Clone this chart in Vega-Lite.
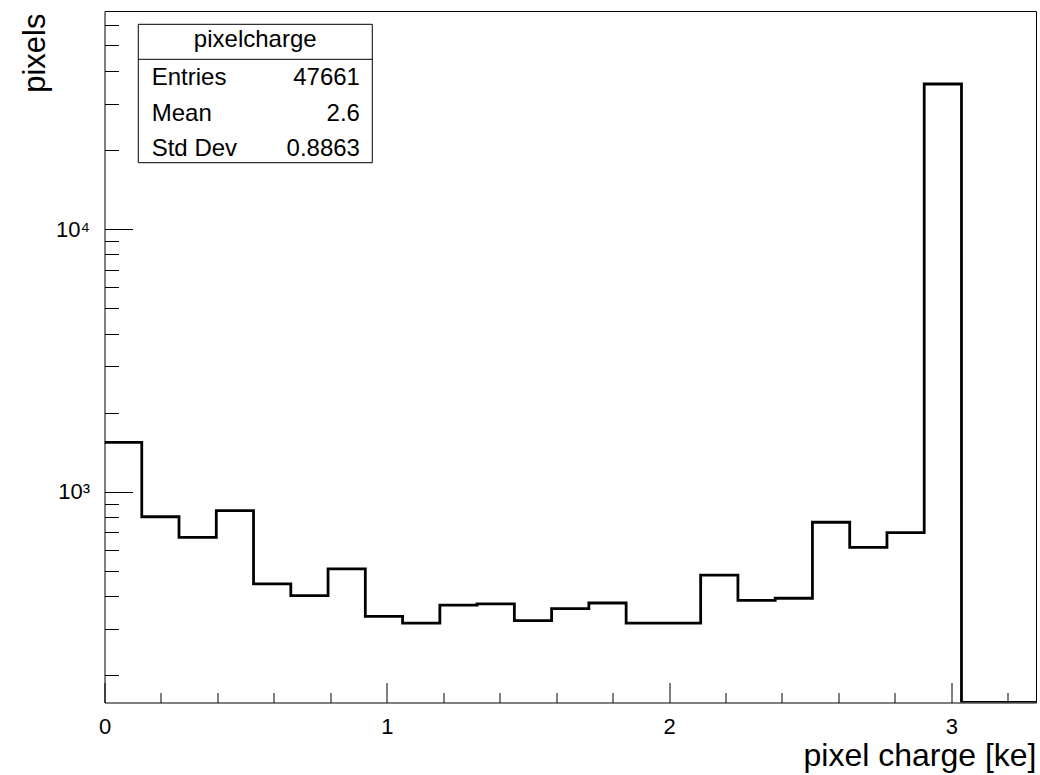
{
  "$schema": "https://vega.github.io/schema/vega-lite/v6.json",
  "autosize": {"type": "none"},
  "padding": {"left": 104.5, "top": 11, "right": 4, "bottom": 72.5},
  "width": 931.5,
  "height": 691.5,
  "background": "white",
  "config": {
    "view": {"stroke": "black", "strokeWidth": 1},
    "font": "Liberation Sans",
    "axis": {"grid": false, "domain": false, "tickColor": "black", "tickWidth": 1, "labelColor": "black", "titleColor": "black", "labelFont": "Liberation Sans", "titleFont": "Liberation Sans", "titleFontWeight": "normal"}
  },
  "datasets": {
    "hist": [
      {"lo": 0.0, "hi": 0.132, "count": 1541},
      {"lo": 0.132, "hi": 0.264, "count": 803},
      {"lo": 0.264, "hi": 0.396, "count": 670},
      {"lo": 0.396, "hi": 0.528, "count": 847},
      {"lo": 0.528, "hi": 0.66, "count": 446},
      {"lo": 0.66, "hi": 0.792, "count": 402},
      {"lo": 0.792, "hi": 0.924, "count": 508},
      {"lo": 0.924, "hi": 1.056, "count": 335},
      {"lo": 1.056, "hi": 1.188, "count": 316},
      {"lo": 1.188, "hi": 1.32, "count": 370},
      {"lo": 1.32, "hi": 1.452, "count": 374},
      {"lo": 1.452, "hi": 1.584, "count": 323},
      {"lo": 1.584, "hi": 1.716, "count": 359},
      {"lo": 1.716, "hi": 1.848, "count": 377},
      {"lo": 1.848, "hi": 1.98, "count": 316},
      {"lo": 1.98, "hi": 2.112, "count": 316},
      {"lo": 2.112, "hi": 2.244, "count": 481},
      {"lo": 2.244, "hi": 2.376, "count": 386},
      {"lo": 2.376, "hi": 2.508, "count": 393},
      {"lo": 2.508, "hi": 2.64, "count": 765},
      {"lo": 2.64, "hi": 2.772, "count": 614},
      {"lo": 2.772, "hi": 2.904, "count": 698},
      {"lo": 2.904, "hi": 3.036, "count": 35650},
      {"lo": 3.036, "hi": 3.168, "count": 0},
      {"lo": 3.168, "hi": 3.3, "count": 0}
    ],
    "statbox": [
      {"title": "pixelcharge"}
    ],
    "stats": [
      {"name": "Entries", "value": "47661"},
      {"name": "Mean", "value": "2.6"},
      {"name": "Std Dev", "value": "0.8863"}
    ]
  },
  "layer": [
    {
      "data": {"name": "hist"},
      "transform": [{"fold": ["lo", "hi"], "as": ["edge", "xpos"]}],
      "mark": {"type": "line", "color": "black", "strokeWidth": 2.8, "clip": true, "invalid": "show"},
      "encoding": {
        "x": {"field": "xpos", "type": "quantitative",
              "scale": {"domain": [0, 3.3], "nice": false, "zero": false},
              "axis": {"orient": "bottom", "values": [0, 1, 2, 3], "tickSize": -20, "labelPadding": 51, "labelBaseline": "alphabetic", "labelFontSize": 22, "labelAngle": 0, "labelFlush": false,
                       "title": "pixel charge [ke]", "titleFontSize": 32, "titleX": 931.5, "titleY": 62.5, "titleAlign": "right", "titleAnchor": null, "titleBaseline": "alphabetic"}},
        "y": {"field": "count", "type": "quantitative",
              "scale": {"type": "log", "domain": [157.6, 67590], "nice": false, "clamp": true},
              "axis": {"orient": "left", "values": [1000, 10000], "tickSize": -28, "labelPadding": 43, "labelFontSize": 22, "labelBaseline": "middle", "labelFlush": false,
                       "labelExpr": "datum.value == 1000 ? '10³' : '10⁴'",
                       "title": "pixels", "titleFontSize": 31, "titleAngle": -90, "titleX": -60.5, "titleY": 2, "titleAlign": "right", "titleAnchor": null, "titleBaseline": "alphabetic"}}
      }
    },
    {
      "data": {"name": "hist"},
      "mark": {"type": "point", "opacity": 0},
      "encoding": {
        "x": {"field": "lo", "type": "quantitative",
              "axis": {"orient": "bottom", "values": [0.2, 0.4, 0.6, 0.8, 1.2, 1.4, 1.6, 1.8, 2.2, 2.4, 2.6, 2.8, 3.2], "tickSize": -10, "labels": false, "title": null}},
        "y": {"field": "count", "type": "quantitative",
              "axis": {"orient": "left", "values": [200, 300, 400, 500, 600, 700, 800, 900, 2000, 3000, 4000, 5000, 6000, 7000, 8000, 9000, 20000, 30000, 40000, 50000, 60000], "tickSize": -14, "labels": false, "title": null}}
      }
    },
    {
      "data": {"name": "statbox"},
      "mark": {"type": "rect", "fill": "white", "stroke": "black", "strokeWidth": 1},
      "encoding": {
        "x": {"datum": 0.1197, "type": "quantitative", "axis": null},
        "x2": {"datum": 0.9487},
        "y": {"datum": 17880, "type": "quantitative", "axis": null},
        "y2": {"datum": 60150}
      }
    },
    {
      "data": {"name": "statbox"},
      "mark": {"type": "rule", "color": "black", "strokeWidth": 1},
      "encoding": {
        "x": {"datum": 0.1197, "type": "quantitative", "axis": null},
        "x2": {"datum": 0.9487},
        "y": {"datum": 44260, "type": "quantitative", "axis": null}
      }
    },
    {
      "data": {"name": "statbox"},
      "mark": {"type": "text", "fontSize": 24, "align": "center", "baseline": "alphabetic", "color": "black", "font": "Liberation Sans"},
      "encoding": {
        "x": {"datum": 0.534, "type": "quantitative", "axis": null},
        "y": {"datum": 49160, "type": "quantitative", "axis": null},
        "text": {"field": "title"}
      }
    },
    {
      "data": {"name": "stats"},
      "transform": [{"filter": "datum.name == 'Entries'"}],
      "encoding": {"y": {"datum": 35340, "type": "quantitative", "axis": null}},
      "layer": [
        {"mark": {"type": "text", "fontSize": 24, "align": "left", "baseline": "alphabetic", "color": "black", "font": "Liberation Sans"},
         "encoding": {"x": {"datum": 0.1672, "type": "quantitative", "axis": null}, "text": {"field": "name"}}},
        {"mark": {"type": "text", "fontSize": 24, "align": "right", "baseline": "alphabetic", "color": "black", "font": "Liberation Sans"},
         "encoding": {"x": {"datum": 0.905, "type": "quantitative", "axis": null}, "text": {"field": "value"}}}
      ]
    },
    {
      "data": {"name": "stats"},
      "transform": [{"filter": "datum.name == 'Mean'"}],
      "encoding": {"y": {"datum": 25840, "type": "quantitative", "axis": null}},
      "layer": [
        {"mark": {"type": "text", "fontSize": 24, "align": "left", "baseline": "alphabetic", "color": "black", "font": "Liberation Sans"},
         "encoding": {"x": {"datum": 0.1672, "type": "quantitative", "axis": null}, "text": {"field": "name"}}},
        {"mark": {"type": "text", "fontSize": 24, "align": "right", "baseline": "alphabetic", "color": "black", "font": "Liberation Sans"},
         "encoding": {"x": {"datum": 0.905, "type": "quantitative", "axis": null}, "text": {"field": "value"}}}
      ]
    },
    {
      "data": {"name": "stats"},
      "transform": [{"filter": "datum.name == 'Std Dev'"}],
      "encoding": {"y": {"datum": 18960, "type": "quantitative", "axis": null}},
      "layer": [
        {"mark": {"type": "text", "fontSize": 24, "align": "left", "baseline": "alphabetic", "color": "black", "font": "Liberation Sans"},
         "encoding": {"x": {"datum": 0.1672, "type": "quantitative", "axis": null}, "text": {"field": "name"}}},
        {"mark": {"type": "text", "fontSize": 24, "align": "right", "baseline": "alphabetic", "color": "black", "font": "Liberation Sans"},
         "encoding": {"x": {"datum": 0.905, "type": "quantitative", "axis": null}, "text": {"field": "value"}}}
      ]
    }
  ],
  "resolve": {"axis": {"x": "independent", "y": "independent"}}
}
